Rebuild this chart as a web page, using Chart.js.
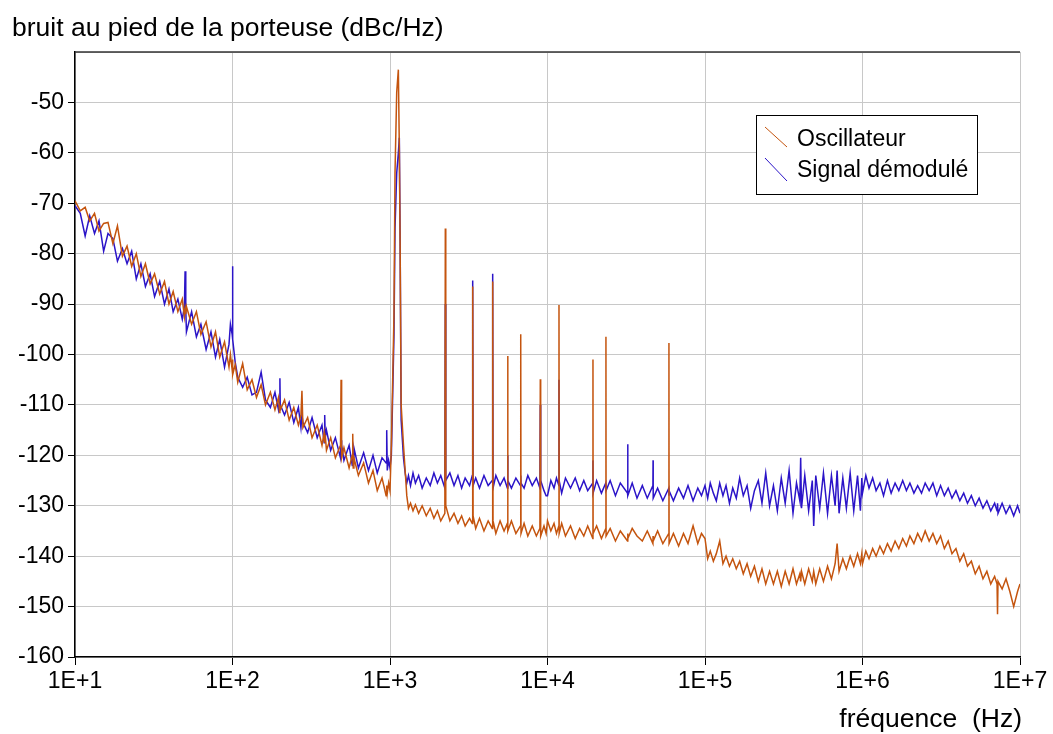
<!DOCTYPE html>
<html>
<head>
<meta charset="utf-8">
<script src="https://cdn.jsdelivr.net/npm/chart.js@4.4.0/dist/chart.umd.min.js"></script>
<style>
  body { margin: 0; background: #fff; }
</style>
</head>
<body>
<canvas id="bruit" width="1053" height="734"></canvas>
<script>
// frequency grid (Hz), one segment per decade, with extra points around each spur
const freqSeg1 = [
  10, 10.8, 11.6, 12.4, 13.3, 14.2, 15.2, 16.2, 17.4, 18.6,
  20, 21.4, 22.9, 24.5, 26.2, 28, 30, 32, 34.5, 37,
  39.5, 42, 45, 48, 49.5, 50, 50.5, 51, 55, 59,
  63, 68, 73, 78, 83, 89, 95, 97, 99.5, 100,
  100.5
];
const oscSeg1 = [
  -69.5, -71.5, -70.8, -73.5, -72.0, -75.5, -74.0, -73.8, -78.0, -74.5,
  -80.5, -78.5, -82.5, -80.0, -84.5, -82.0, -86.0, -84.0, -88.0, -85.5,
  -90.0, -87.5, -91.5, -89.0, -92.5, -91.0, -92.0, -90.5, -94.0, -91.5,
  -96.0, -93.5, -98.5, -95.5, -100.5, -97.5, -102.5, -100.0, -103.0, -101.0,
  -104.0
];
const sigSeg1 = [
  -70.5, -72.0, -76.5, -72.5, -76.0, -73.5, -79.5, -76.0, -77.0, -81.5,
  -79.0, -82.0, -79.5, -85.0, -82.0, -86.5, -84.0, -88.5, -85.5, -90.0,
  -87.0, -91.5, -89.0, -93.0, -90.5, -83.5, -91.0, -95.5, -91.5, -96.5,
  -94.0, -99.0, -95.5, -100.5, -97.0, -102.5, -98.0, -94.0, -96.0, -82.5,
  -97.0
];

const freqSeg2 = [
  104, 108, 116, 124, 133, 142, 152, 162, 174, 186,
  196, 199, 200, 201, 214, 229, 245, 262, 272, 276,
  280, 300, 320, 345, 370, 382, 385, 388, 395, 420,
  450, 485, 489, 493, 510, 550, 576, 580, 584, 590,
  630, 680, 730, 780, 830, 890, 945, 953, 961, 980
];
const oscSeg2 = [
  -102.0, -105.5, -101.8, -107.0, -105.0, -108.5, -106.0, -110.0, -107.5, -111.0,
  -108.5, -111.5, -110.0, -111.0, -109.0, -113.0, -110.5, -114.0, -112.0, -107.2,
  -114.5, -112.5, -116.5, -114.0, -118.0, -115.5, -117.5, -116.0, -119.0, -116.5,
  -120.5, -118.0, -105.0, -120.5, -118.5, -122.5, -120.0, -115.7, -122.5, -120.5,
  -124.0, -121.5, -125.5, -123.0, -127.0, -124.5, -128.0, -126.0, -127.5, -125.5
];
const sigSeg2 = [
  -101.5, -104.5, -106.5, -104.5, -108.0, -107.5, -103.5, -109.0, -110.5, -107.5,
  -111.0, -109.5, -104.7, -110.0, -112.0, -109.5, -113.5, -110.5, -114.5, -112.0,
  -113.5, -115.5, -112.5, -116.5, -114.0, -117.5, -112.0, -116.5, -115.0, -119.0,
  -116.5, -120.5, -117.0, -118.0, -121.0, -118.0, -122.0, -119.5, -120.5, -118.5,
  -122.5, -119.5, -123.0, -120.0, -123.5, -120.5, -121.5, -115.0, -123.0, -121.0
];

const freqSeg3 = [
  1000, 1020, 1040, 1060, 1076, 1103, 1130, 1146, 1160, 1177,
  1218, 1248, 1278, 1310, 1350, 1400, 1450, 1520, 1600, 1700,
  1800, 1900, 2000, 2100, 2230, 2245, 2260, 2400, 2550, 2700,
  2850, 3000, 3200, 3330, 3350, 3370, 3500, 3700, 3950, 4200,
  4460, 4487, 4510, 4700, 5000, 5300, 5560, 5586, 5610, 5900,
  6300, 6730, 6761, 6790, 7100, 7500, 8000, 8500, 8950, 9000,
  9050, 9500, 9800
];
const oscSeg3 = [
  -127.0, -118.0, -105.0, -92.0, -64.0, -48.0, -43.5, -59.0, -79.0, -110.0,
  -118.0, -123.0, -128.0, -130.5, -129.5, -131.0, -129.8, -131.5, -130.0, -132.0,
  -130.5, -132.5, -131.0, -133.0, -131.5, -75.0, -130.0, -133.0, -131.5, -133.5,
  -132.0, -134.0, -132.5, -133.5, -86.5, -132.0, -134.5, -132.5, -135.0, -133.0,
  -134.5, -85.5, -133.0, -135.5, -133.0, -135.0, -133.5, -100.3, -135.0, -133.0,
  -135.5, -134.0, -96.0, -135.5, -133.5, -136.0, -134.0, -136.0, -134.5, -104.9,
  -136.0, -134.0, -135.5
];
const sigSeg3 = [
  -122.5, -120.0, -108.0, -96.0, -75.0, -64.0, -60.0, -57.0, -78.0, -113.0,
  -120.5, -123.5, -125.5, -124.0, -126.0, -123.5, -125.5, -124.0, -126.5, -124.5,
  -126.0, -123.5, -125.5, -124.0, -126.5, -90.0, -125.0, -123.5, -126.0, -124.0,
  -126.5, -124.5, -126.0, -124.0, -85.3, -126.0, -124.5, -126.5, -124.0, -126.0,
  -125.0, -84.0, -126.5, -124.0, -126.0, -124.5, -126.5, -120.0, -125.0, -126.5,
  -124.5, -126.0, -124.0, -125.5, -126.5, -124.0, -126.0, -124.5, -126.5, -110.0,
  -125.0, -127.0, -128.0
];

const freqSeg4 = [
  10000, 10500, 11000, 11400, 11800, 11830, 11860, 12300, 13000, 14000,
  15000, 16000, 17000, 18000, 19400, 19440, 19480, 20500, 22000, 23450,
  23500, 23550, 25000, 27000, 29000, 32200, 32300, 32400, 34500, 37000,
  40000, 43000, 46700, 46800, 46900, 50000, 54000, 58900, 59030, 59150,
  63000, 68000, 73000, 78000, 84000, 90000, 95000
];
const oscSeg4 = [
  -133.0, -135.0, -133.5, -135.5, -134.0, -90.2, -135.5, -133.5, -136.0, -134.0,
  -136.5, -134.5, -136.0, -134.0, -136.5, -101.0, -135.5, -134.0, -136.5, -134.5,
  -96.5, -136.0, -134.5, -137.0, -135.0, -137.0, -135.5, -136.5, -134.5, -136.0,
  -137.0, -135.0, -137.5, -136.0, -137.0, -135.0, -137.5, -135.5, -97.7, -137.5,
  -135.5, -138.0, -135.5, -137.5, -134.0, -137.5, -135.5
];
const sigSeg4 = [
  -128.0, -125.0, -126.5, -124.5, -126.0, -105.0, -125.0, -127.5, -124.5, -126.5,
  -124.5, -127.0, -125.0, -127.0, -125.5, -121.0, -127.5, -125.0, -127.5, -125.5,
  -126.0, -127.0, -125.0, -128.0, -125.5, -127.5, -117.8, -128.0, -125.5, -128.5,
  -126.0, -128.5, -126.0, -121.0, -128.5, -126.5, -129.0, -126.5, -128.0, -127.0,
  -129.0, -126.5, -128.5, -126.0, -129.0, -126.5, -128.0
];

const freqSeg5 = [
  100000, 104000, 108000, 113000, 118000, 124000, 130000, 136000, 143000, 150000,
  158000, 166000, 175000, 185000, 195000, 206000, 218000, 230000, 243000, 257000,
  272000, 288000, 305000, 323000, 342000, 362000, 381000, 400000, 405000, 410000,
  430000, 455000, 480000, 490000, 505000, 535000, 565000, 600000, 635000, 670000,
  690000, 710000, 750000, 790000, 835000, 880000, 930000, 970000, 990000
];
const oscSeg5 = [
  -136.5, -140.5, -139.0, -141.0, -139.5, -137.0, -141.5, -140.0, -142.0, -140.5,
  -142.5, -141.0, -143.5, -141.5, -144.0, -142.0, -145.0, -142.5, -145.5, -143.0,
  -145.5, -143.0, -146.0, -143.0, -145.5, -142.5, -145.5, -143.5, -145.0, -143.0,
  -145.5, -142.5, -145.0, -143.0, -145.5, -142.5, -145.0, -142.0, -144.5, -141.5,
  -137.5, -143.0, -140.5, -142.5, -140.0, -142.0, -139.5, -141.5, -139.5
];
const sigSeg5 = [
  -126.0, -128.5, -125.5, -127.5, -129.0, -125.5, -128.0, -126.0, -129.5, -126.5,
  -128.5, -124.5, -128.0, -126.0, -130.5, -127.0, -125.0, -129.5, -123.5, -130.0,
  -126.0, -131.0, -124.5, -129.5, -123.0, -131.5, -125.5, -129.0, -120.5, -130.5,
  -124.0, -131.0, -125.0, -134.0, -124.0, -130.5, -123.5, -131.5, -124.0, -130.0,
  -123.0, -131.5, -124.5, -130.5, -123.5, -131.0, -124.0, -131.0, -124.5
];

const freqSeg6 = [
  1000000, 1050000, 1100000, 1160000, 1220000, 1290000, 1360000, 1440000, 1520000, 1610000,
  1700000, 1800000, 1900000, 2000000, 2120000, 2240000, 2370000, 2500000, 2650000, 2800000,
  2960000, 3130000, 3310000, 3500000, 3700000, 3920000, 4150000, 4390000, 4640000, 4910000,
  5200000, 5500000, 5820000, 6160000, 6520000, 6900000, 7150000, 7200000, 7250000, 7700000,
  8150000, 8620000, 9120000, 9650000, 10000000
];
const oscSeg6 = [
  -141.5, -139.0, -140.5, -138.5, -140.0, -138.0, -139.5, -137.5, -139.0, -137.0,
  -138.5, -136.5, -138.0, -136.0, -137.5, -135.5, -137.0, -135.0, -137.0, -135.5,
  -137.5, -136.0, -138.5, -137.0, -139.5, -138.5, -141.0, -139.5, -142.0, -141.0,
  -143.5, -142.0, -144.5, -143.0, -145.5, -144.0, -145.5, -151.5, -145.0, -146.5,
  -144.5, -147.0, -150.0, -147.0, -145.5
];
const sigSeg6 = [
  -127.5, -124.0, -126.5, -124.5, -127.0, -125.5, -128.0, -125.0, -127.5, -125.5,
  -127.0, -125.0, -127.0, -125.5, -127.5, -126.0, -127.5, -125.5, -127.0, -125.5,
  -128.0, -126.0, -128.0, -126.5, -128.5, -127.0, -129.0, -127.5, -129.5, -128.0,
  -130.0, -128.5, -130.5, -129.0, -131.0, -129.5, -131.0, -129.5, -131.5, -129.5,
  -131.5, -130.0, -132.0, -130.0, -131.5
];

const frequences = [].concat(freqSeg1, freqSeg2, freqSeg3, freqSeg4, freqSeg5, freqSeg6);
const oscillateur = [].concat(oscSeg1, oscSeg2, oscSeg3, oscSeg4, oscSeg5, oscSeg6);
const signalDemodule = [].concat(sigSeg1, sigSeg2, sigSeg3, sigSeg4, sigSeg5, sigSeg6);

const decades = [1e1, 1e2, 1e3, 1e4, 1e5, 1e6, 1e7];
const yTitle = "bruit au pied de la porteuse (dBc/Hz)";
const xTitle = "fréquence  (Hz)";

const ORANGE = "#c4540e";
const BLUE = "#2b14c8";
const FONT = "'Liberation Sans', Arial, sans-serif";

// titles, top frame line and the boxed legend
const decor = {
  id: "decor",
  afterDraw(chart) {
    const ctx = chart.ctx;
    const area = chart.chartArea;
    ctx.save();
    ctx.strokeStyle = "#333";
    ctx.lineWidth = 1.5;
    ctx.beginPath();
    ctx.moveTo(area.left, area.top);
    ctx.lineTo(area.right, area.top);
    ctx.stroke();

    ctx.fillStyle = "#000";
    ctx.font = "26.5px " + FONT;
    ctx.textBaseline = "alphabetic";
    ctx.textAlign = "left";
    ctx.fillText(yTitle, 12, 36);
    ctx.textAlign = "right";
    ctx.fillText(xTitle, 1022, 727);

    // legend
    ctx.fillStyle = "#fff";
    ctx.fillRect(756, 115, 221, 79);
    ctx.strokeStyle = "#000";
    ctx.lineWidth = 1;
    ctx.strokeRect(756.5, 115.5, 221, 79);
    const rows = [[127, 147, 146], [158, 181, 177]];
    chart.data.datasets.forEach((ds, i) => {
      const r = rows[i];
      ctx.strokeStyle = ds.borderColor;
      ctx.lineWidth = 1;
      ctx.beginPath();
      ctx.moveTo(765, r[0]);
      ctx.lineTo(787, r[1]);
      ctx.stroke();
      ctx.fillStyle = "#000";
      ctx.font = "23px " + FONT;
      ctx.textAlign = "left";
      ctx.fillText(ds.label, 797, r[2]);
    });
    ctx.restore();
  }
};

new Chart(document.getElementById("bruit"), {
  type: "line",
  data: {
    datasets: [
      {
        label: "Oscillateur",
        data: frequences.map((f, i) => ({ x: f, y: oscillateur[i] })),
        borderColor: ORANGE,
        borderWidth: 1.5,
        pointRadius: 0,
        tension: 0,
      },
      {
        label: "Signal démodulé",
        data: frequences.map((f, i) => ({ x: f, y: signalDemodule[i] })),
        borderColor: BLUE,
        borderWidth: 1.5,
        pointRadius: 0,
        tension: 0,
      },
    ],
  },
  options: {
    responsive: false,
    animation: false,
    layout: { padding: { top: 52, right: 33, left: 0, bottom: 0 } },
    plugins: {
      legend: { display: false },
      tooltip: { enabled: false },
    },
    scales: {
      x: {
        type: "logarithmic",
        min: 10,
        max: 1e7,
        afterBuildTicks: (axis) => {
          axis.ticks = decades.map((v) => ({ value: v }));
        },
        afterFit: (axis) => {
          axis.height = 77;
        },
        grid: { color: "#c8c8c8", tickColor: "#000", tickLength: 8 },
        border: { color: "#000", width: 1.5 },
        ticks: {
          color: "#000",
          font: { family: FONT, size: 23 },
          padding: 3,
          maxRotation: 0,
          autoSkip: false,
          callback: (v) => "1E+" + Math.round(Math.log10(v)),
        },
      },
      y: {
        min: -160,
        max: -40,
        afterFit: (axis) => {
          axis.width = 75;
        },
        grid: {
          color: "#c8c8c8",
          tickColor: (c) => (c.tick && c.tick.value === -40 ? "rgba(0,0,0,0)" : "#000"),
          tickLength: 7,
        },
        border: { color: "#000", width: 1.5 },
        ticks: {
          stepSize: 10,
          color: "#000",
          font: { family: FONT, size: 23 },
          padding: 4,
          callback: (v) => (v === -40 ? "" : v),
        },
      },
    },
  },
  plugins: [decor],
});
</script>
</body>
</html>
